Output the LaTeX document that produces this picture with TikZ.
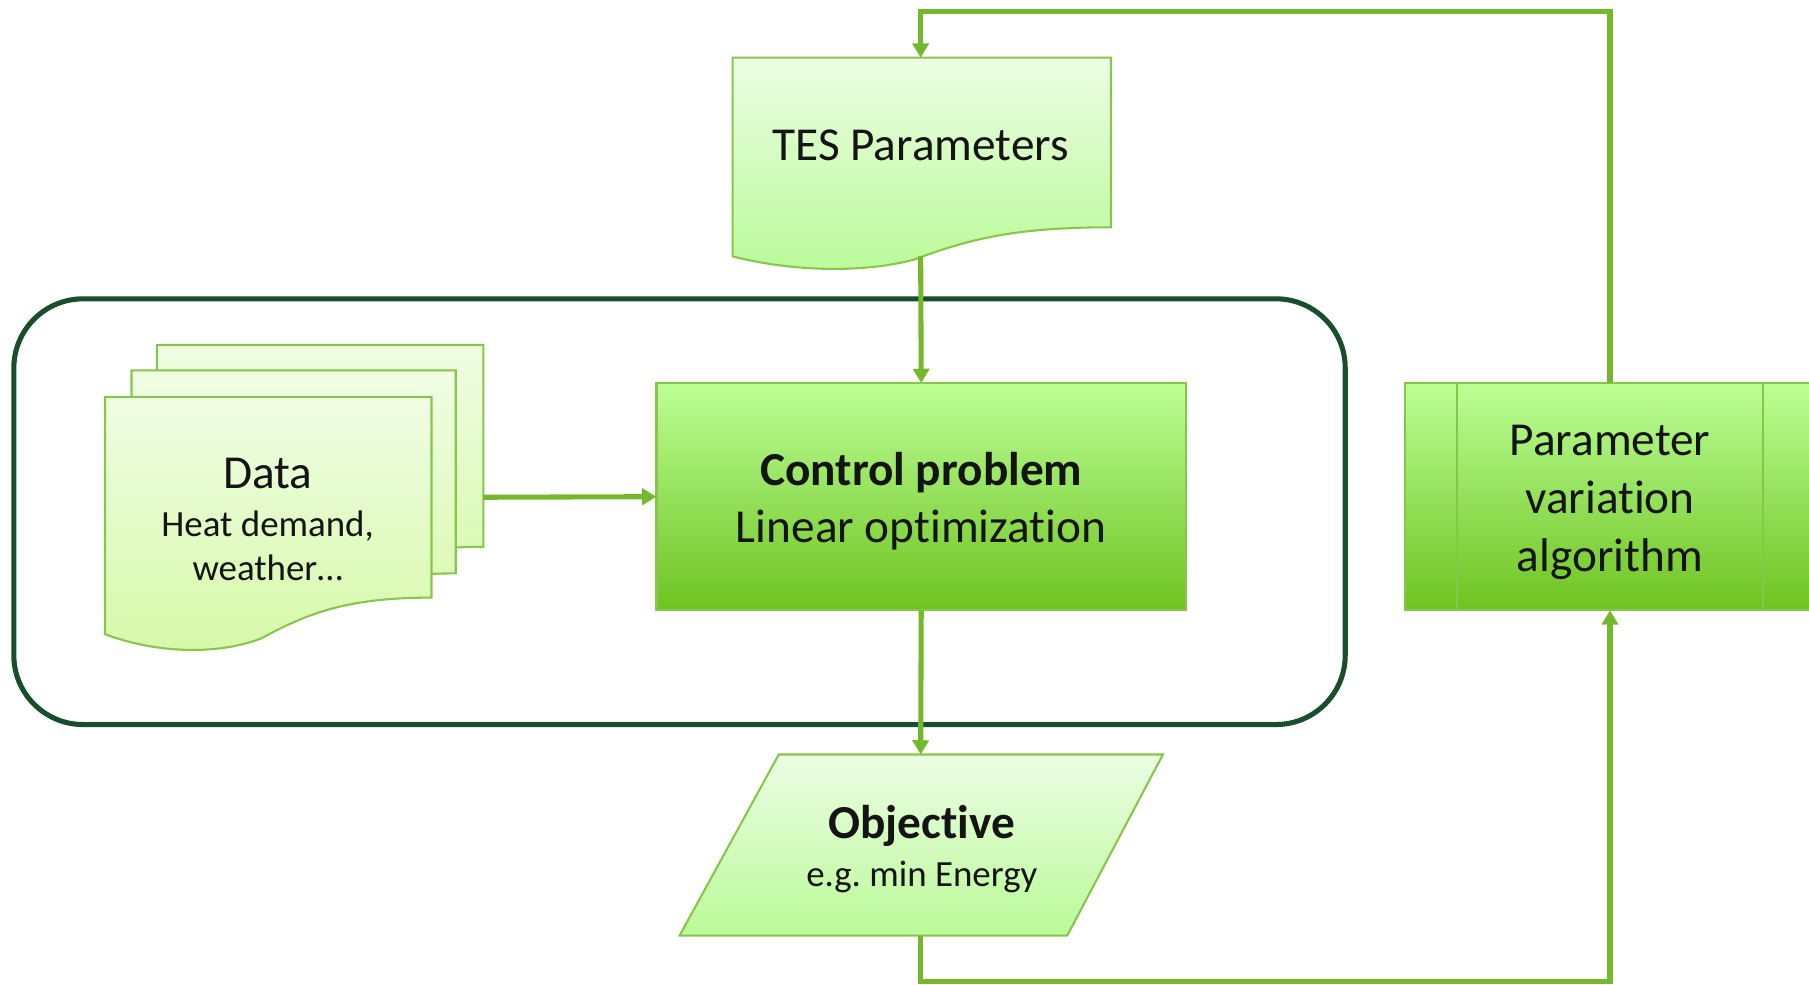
\documentclass[tikz,border=0pt]{standalone}
\usepackage{fontspec}
\setmainfont{Carlito}[Ligatures=NoCommon]
\usetikzlibrary{arrows.meta}
\frenchspacing
\definecolor{lineG}{RGB}{118,184,44}
\definecolor{bordG}{RGB}{135,198,75}
\definecolor{docTop}{RGB}{236,253,228}
\definecolor{docBot}{RGB}{186,250,152}
\definecolor{datTop}{RGB}{240,253,228}
\definecolor{datBot}{RGB}{214,249,168}
\definecolor{boxTop}{RGB}{188,255,150}
\definecolor{boxBot}{RGB}{110,195,32}
\definecolor{frameG}{RGB}{24,78,44}
\newcommand{\docshape}[6]{%
 \path[#1] (#2,#3) -- (#4,#3) -- (#4,#5)
  .. controls ({#4-0.253*(#4-#2)},#5) and ({#4-0.375*(#4-#2)},{#5+0.29*#6}) .. ({#4-0.52*(#4-#2)},{#5+0.8*#6})
  .. controls ({#4-0.67*(#4-#2)},{#5+1.17*#6}) and ({#4-0.86*(#4-#2)},{#5+1.06*#6}) .. (#2,{#5+0.72*#6}) -- cycle;}
\tikzset{
  docfill/.style={draw=bordG, line width=0.9pt, top color=docTop, bottom color=docBot},
  datfill/.style={draw=bordG, line width=0.9pt, top color=datTop, bottom color=datBot},
  procbox/.style={draw=bordG, line width=0.9pt, top color=boxTop, bottom color=boxBot, inner sep=0pt, outer sep=0pt},
  conn/.style={draw=lineG, line width=2.2pt},
  arr/.style={conn, -{Triangle[length=6.2pt,width=7pt]}},
  frame/.style={draw=frameG, line width=2.2pt, rounded corners=30pt},
  big/.style={font=\fontsize{20.5}{25}\selectfont, align=center, text=black!92},
}
\begin{document}
\begin{tikzpicture}[x=0.5pt,y=-0.5pt]
\useasboundingbox (0,0) rectangle (1568,853);
% container
\draw[frame] (12,259) rectangle (1166,628);
% TES document
\docshape{docfill}{635}{50}{963}{197}{35}
\coordinate (tesN) at (798,50);
\coordinate (tesS) at (798,222);
\node[big] (tes) at (798,126) {TES Parameters};
% Data documents
\docshape{datfill}{136}{299}{419}{474}{44}
\docshape{datfill}{114}{321}{395}{497}{44}
\docshape{datfill}{91}{344}{374}{518}{44}
\coordinate (dataE) at (419,431);
\node[align=center, font=\fontsize{16}{19}\selectfont, text=black!92] (data) at (232,450)
  {{\fontsize{20.5}{25}\selectfont Data}\\[2pt]Heat demand,\\weather…};
% control box
\node[procbox, minimum width=229.5pt, minimum height=98.5pt] (ctrl) at (798.5,430.5) {};
\node[big] (ctrlT) at (798.5,434.5) {\textbf{Control problem}\\Linear optimization};
% parameter box
\node[procbox, minimum width=177.5pt, minimum height=98.5pt] (param) at (1395.5,430.5) {};
\node[big] (paramT) at (1395.5,435.5) {Parameter\\variation\\algorithm};
\draw[bordG, line width=0.9pt] (1263,332) -- (1263,529) (1528,332) -- (1528,529);
% objective
\path[docfill] (675,654) -- (1008,654) -- (925,811) -- (589,811) -- cycle;
\coordinate (objN) at (798,654);
\coordinate (objS) at (798,811);
\node[align=center, text=black!92] (obj) at (799,736)
  {{\fontsize{20.5}{25}\selectfont\bfseries Objective}\\[5pt]{\fontsize{16}{19}\selectfont e.g. min Energy}};
% connectors
\coordinate (loopTop) at (798,10);
\coordinate (loopBot) at (1395.5,851);
\draw[arr] (param.north) |- (loopTop) -- (tesN);
\draw[arr] (tesS) -- (ctrl.north);
\draw[arr] (dataE) -- (ctrl.west);
\draw[arr] (ctrl.south) -- (objN);
\draw[arr] (objS) |- (loopBot) -- (param.south);
\end{tikzpicture}
\end{document}
